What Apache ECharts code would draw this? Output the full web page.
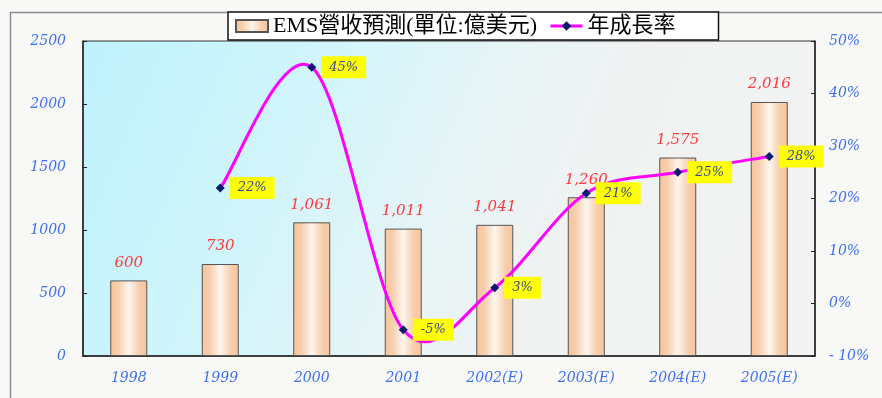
<!DOCTYPE html>
<html>
<head>
<meta charset="utf-8">
<script src="https://cdn.jsdelivr.net/npm/echarts@6/dist/echarts.min.js"></script>
<style>
html,body{margin:0;padding:0;background:#f8f8f6;}
#chart{width:882px;height:398px;}
</style>
</head>
<body>
<div id="chart"></div>
<script>
var categories = ['1998','1999','2000','2001','2002(E)','2003(E)','2004(E)','2005(E)'];
var revenue = [600, 730, 1061, 1011, 1041, 1260, 1575, 2016];
var growth = [null, 22, 45, -5, 3, 21, 25, 28];
var leftTicks = {min: 0, max: 2500, interval: 500};
var rightTicks = {min: -10, max: 50, interval: 10};
var seriesNames = ['EMS營收預測(單位:億美元)', '年成長率'];

var serif = '"Liberation Serif", "Noto Sans CJK TC", serif';
var wideSerif = '"DejaVu Serif", serif';
var axisLabelStyle = {color: '#3d70f2', fontStyle: 'italic', fontFamily: wideSerif, fontSize: 14};

var barFill = {
  type: 'linear', x: 0, y: 0, x2: 1, y2: 0,
  colorStops: [
    {offset: 0, color: '#f6c49b'},
    {offset: 0.22, color: '#f7cfae'},
    {offset: 0.5, color: '#fcf6ee'},
    {offset: 0.78, color: '#f7cfae'},
    {offset: 1, color: '#f6c49b'}
  ]
};

// Smooth growth curve (Catmull-Rom style, like the spreadsheet's smoothed line),
// positioned through the chart's own coordinate system.
function renderCurve(params, api) {
  var i = params.dataIndex;
  if (growth[i] == null || i + 1 >= growth.length || growth[i + 1] == null) return;
  function pt(j) {
    j = Math.max(0, Math.min(growth.length - 1, j));
    if (growth[j] == null) return null;
    return api.coord([j, growth[j]]);
  }
  var p1 = pt(i), p2 = pt(i + 1);
  var p0 = pt(i - 1) || p1, p3 = pt(i + 2) || p2;
  return {
    type: 'bezierCurve',
    shape: {
      x1: p1[0], y1: p1[1],
      cpx1: p1[0] + (p2[0] - p0[0]) / 6, cpy1: p1[1] + (p2[1] - p0[1]) / 6,
      cpx2: p2[0] - (p3[0] - p1[0]) / 6, cpy2: p2[1] - (p3[1] - p1[1]) / 6,
      x2: p2[0], y2: p2[1]
    },
    style: {stroke: '#ff00ff', lineWidth: 3, fill: null}
  };
}

var chart = echarts.init(document.getElementById('chart'));
chart.setOption({
  backgroundColor: '#f8f8f6',
  animation: false,
  graphic: [{
    type: 'rect', left: 8, top: 10, z: -10,
    shape: {width: 900, height: 420},
    style: {fill: 'none', stroke: '#8a8a8a', lineWidth: 1.5}
  }],
  legend: {
    left: 228, top: 12,
    padding: [3, 43, 3, 7],
    itemGap: 12,
    itemWidth: 32, itemHeight: 12,
    backgroundColor: '#ffffff',
    borderColor: '#111',
    borderWidth: 1.5,
    borderRadius: 0,
    textStyle: {fontFamily: serif, fontSize: 22, color: '#000'},
    data: [
      {name: seriesNames[0], icon: 'rect'},
      {name: seriesNames[1], lineStyle: {opacity: 1, color: '#ff00ff', width: 3}}
    ]
  },
  grid: {
    left: 83, right: 67, top: 41, bottom: 42,
    show: true,
    borderColor: '#333',
    borderWidth: 1,
    backgroundColor: {
      type: 'linear', x: 0, y: 0, x2: 1, y2: 1,
      colorStops: [
        {offset: 0, color: '#bff2fc'},
        {offset: 0.3, color: '#d2f5fb'},
        {offset: 0.5, color: '#e7f4f6'},
        {offset: 0.65, color: '#f0f2f2'},
        {offset: 1, color: '#f3f3f3'}
      ]
    }
  },
  xAxis: {
    type: 'category',
    data: categories,
    axisLine: {lineStyle: {color: '#222', width: 1.5}},
    axisTick: {inside: true, length: 4, lineStyle: {color: '#222'}},
    axisLabel: Object.assign({margin: 15}, axisLabelStyle)
  },
  yAxis: [{
    type: 'value',
    min: leftTicks.min, max: leftTicks.max, interval: leftTicks.interval,
    axisLine: {show: true, lineStyle: {color: '#222', width: 1.5}},
    axisTick: {show: true, inside: true, length: 4, lineStyle: {color: '#222'}},
    splitLine: {show: false},
    axisLabel: Object.assign({margin: 17, formatter: function (v) { return String(v); }}, axisLabelStyle)
  }, {
    type: 'value',
    min: rightTicks.min, max: rightTicks.max, interval: rightTicks.interval,
    position: 'right',
    axisLine: {show: true, lineStyle: {color: '#222', width: 1.5}},
    axisTick: {show: true, inside: true, length: 4, lineStyle: {color: '#222'}},
    splitLine: {show: false},
    axisLabel: Object.assign({
      margin: 14,
      formatter: function (v) { return (v < 0 ? '- ' + (-v) : v) + '%'; }
    }, axisLabelStyle)
  }],
  series: [{
    name: seriesNames[0],
    type: 'bar',
    yAxisIndex: 0,
    data: revenue,
    barWidth: 37,
    itemStyle: {color: barFill, borderColor: '#555', borderWidth: 1},
    label: {
      show: true, position: 'top', distance: 10,
      color: '#ff3a3a', fontStyle: 'italic', fontFamily: wideSerif, fontSize: 15,
      formatter: function (p) { return String(p.value).replace(/\B(?=(\d{3})+(?!\d))/g, ','); }
    }
  }, {
    name: 'curve',
    type: 'custom',
    yAxisIndex: 1,
    z: 3,
    data: growth.map(function (v, i) { return [i, v]; }),
    encode: {x: 0, y: 1},
    renderItem: renderCurve,
    silent: true
  }, {
    name: seriesNames[1],
    type: 'line',
    yAxisIndex: 1,
    z: 4,
    data: growth,
    symbol: 'diamond',
    symbolSize: 9,
    lineStyle: {color: '#ff00ff', width: 3, opacity: 0},
    itemStyle: {color: '#0a1a6e'},
    label: {
      show: true, position: 'right', distance: 5,
      backgroundColor: '#ffff00',
      padding: [5, 8, 4, 8],
      color: '#34489e', fontStyle: 'italic', fontFamily: wideSerif, fontSize: 13,
      formatter: function (p) { return p.value + '%'; }
    }
  }]
});
</script>
</body>
</html>
